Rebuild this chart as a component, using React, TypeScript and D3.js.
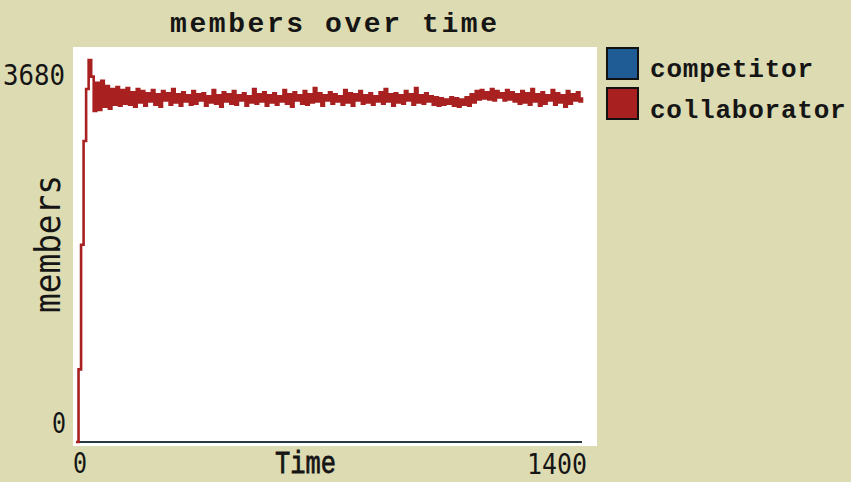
import React from "react";
import * as d3 from "d3";

const TIME_STEP = 7;
const collaborator = [
  0, 700, 1900, 2900, 3400, 3680, 3520, 3190, 3460, 3200,
  3480, 3230, 3430, 3210, 3400, 3250, 3420, 3240, 3390, 3260,
  3410, 3250, 3370, 3230, 3400, 3270, 3380, 3240, 3360, 3280,
  3390, 3250, 3350, 3230, 3380, 3290, 3360, 3250, 3400, 3270,
  3350, 3240, 3370, 3280, 3340, 3250, 3380, 3260, 3350, 3290,
  3360, 3240, 3330, 3270, 3390, 3260, 3340, 3230, 3370, 3280,
  3350, 3260, 3380, 3250, 3340, 3290, 3360, 3240, 3330, 3270,
  3400, 3260, 3350, 3280, 3370, 3240, 3340, 3270, 3360, 3250,
  3330, 3280, 3390, 3260, 3350, 3230, 3370, 3290, 3340, 3260,
  3380, 3250, 3350, 3270, 3410, 3280, 3360, 3240, 3340, 3290,
  3370, 3260, 3350, 3280, 3330, 3250, 3390, 3270, 3360, 3240,
  3350, 3290, 3380, 3260, 3340, 3270, 3360, 3250, 3330, 3280,
  3370, 3260, 3400, 3280, 3350, 3240, 3360, 3270, 3340, 3260,
  3380, 3290, 3350, 3250, 3410, 3270, 3340, 3260, 3360, 3280,
  3330, 3250, 3320, 3240, 3310, 3250, 3300, 3260, 3320, 3240,
  3310, 3230, 3300, 3250, 3320, 3240, 3350, 3270, 3380, 3300,
  3390, 3310, 3370, 3300, 3400, 3290, 3380, 3320, 3360, 3290,
  3390, 3300, 3370, 3280, 3350, 3260, 3380, 3270, 3360, 3250,
  3400, 3280, 3350, 3240, 3370, 3260, 3340, 3290, 3390, 3250,
  3360, 3270, 3340, 3230, 3380, 3260, 3350, 3290, 3370, 3280, 3320,
];
const competitorTimes = [0, 1400];
const competitor = [0, 0];

const seriesNames = ["competitor", "collaborator"];
const seriesColors = ["#1f5c96", "#a82020"];
const xTicks = [0, 1400];
const yTicks = [0, 3680];

const W = 851;
const H = 482;
const BG = "#dddbb1";
const INK = "#151515";
const MONO = "'DejaVu Sans Mono', monospace";
const COURIER = "'Liberation Mono', monospace";

export default function App() {
  const x = d3.scaleLinear().domain([0, 1400]).range([76, 582]);
  const y = d3.scaleLinear().domain([0, 3680]).range([442, 60]);

  const collabLine = d3
    .line<number>()
    .x((d, i) => x(i * TIME_STEP))
    .y((d) => y(d))
    .curve(d3.curveStepAfter);

  const compLine = d3
    .line<number>()
    .x((d, i) => x(competitorTimes[i]))
    .y((d) => y(d));

  return (
    <div style={{ position: "fixed", left: 0, top: 0 }}>
      <svg width={W} height={H} style={{ display: "block" }}>
        <rect x={0} y={0} width={W} height={H} fill={BG} />

        {/* title */}
        <text
          x={170}
          y={32}
          textLength={327}
          fontFamily={COURIER}
          fontWeight="bold"
          fontSize={28}
          fill={INK}
        >
          members over time
        </text>

        {/* plot area */}
        <rect x={73} y={47} width={524} height={399} fill="#ffffff" />

        <path
          d={compLine(competitor) || ""}
          fill="none"
          stroke="#283a44"
          strokeWidth={2}
        />
        <path
          d={collabLine(collaborator) || ""}
          fill="none"
          stroke={seriesColors[1]}
          strokeWidth={2.6}
        />

        {/* y tick labels */}
        <text
          x={3}
          y={y(yTicks[1]) + 25}
          textLength={62}
          lengthAdjust="spacingAndGlyphs"
          fontFamily={MONO}
          fontSize={29}
          fill={INK}
        >
          {yTicks[1]}
        </text>
        <text
          x={52}
          y={y(yTicks[0]) - 9}
          textLength={14}
          lengthAdjust="spacingAndGlyphs"
          fontFamily={MONO}
          fontSize={29}
          fill={INK}
        >
          {yTicks[0]}
        </text>

        {/* x tick labels */}
        <text
          x={x(xTicks[0]) - 3}
          y={473}
          textLength={14}
          lengthAdjust="spacingAndGlyphs"
          fontFamily={MONO}
          fontSize={29}
          fill={INK}
        >
          {xTicks[0]}
        </text>
        <text
          x={x(xTicks[1]) - 55}
          y={474}
          textLength={60}
          lengthAdjust="spacingAndGlyphs"
          fontFamily={MONO}
          fontSize={29}
          fill={INK}
        >
          {xTicks[1]}
        </text>

        {/* axis titles */}
        <text
          x={275}
          y={473}
          textLength={61}
          lengthAdjust="spacingAndGlyphs"
          fontFamily={COURIER}
          fontSize={32}
          fill={INK}
          stroke={INK}
          strokeWidth={0.8}
        >
          Time
        </text>
        <text
          transform="translate(60,313) rotate(-90)"
          x={0}
          y={0}
          textLength={138}
          lengthAdjust="spacingAndGlyphs"
          fontFamily={MONO}
          fontSize={36}
          fill={INK}
        >
          members
        </text>

        {/* legend */}
        {seriesNames.map((name, i) => (
          <g key={name} transform={`translate(607,${48 + i * 40})`}>
            <rect
              x={0}
              y={0}
              width={31}
              height={31}
              fill={seriesColors[i]}
              stroke="#111"
              strokeWidth={2}
            />
            <text
              x={43}
              y={29 + i}
              textLength={name.length * 16.3}
              fontFamily={COURIER}
              fontWeight="bold"
              fontSize={26}
              fill={INK}
            >
              {name}
            </text>
          </g>
        ))}
      </svg>
    </div>
  );
}
